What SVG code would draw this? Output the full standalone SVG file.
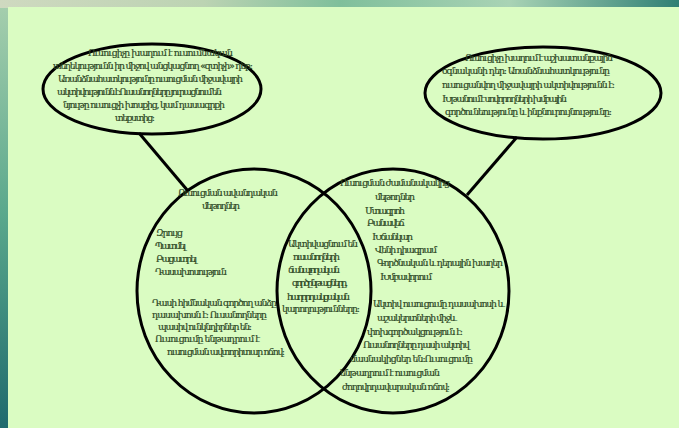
<svg xmlns="http://www.w3.org/2000/svg" width="679" height="428" viewBox="0 0 679 428">
<defs>
<linearGradient id="topFrame" x1="0" y1="0" x2="1" y2="0">
<stop offset="0" stop-color="#cfd9c0"/>
<stop offset="0.3" stop-color="#bcd3b3"/>
<stop offset="0.5" stop-color="#7fbf9b"/>
<stop offset="0.75" stop-color="#a9d3b5"/>
<stop offset="1" stop-color="#2f7f74"/>
</linearGradient>
<linearGradient id="leftFrame" x1="0" y1="0" x2="0" y2="1">
<stop offset="0" stop-color="#a7cfae"/>
<stop offset="0.5" stop-color="#5aa88c"/>
<stop offset="1" stop-color="#1f6a6d"/>
</linearGradient>
<style>
.shape{fill:none;stroke:#000;stroke-width:3}
.conn{stroke:#000;stroke-width:3;fill:none}
text{font-family:"DejaVu Serif","DejaVu Sans",serif;font-size:9.4px;fill:#2c4724;stroke:#2c4724;stroke-width:0.2}
</style>
</defs>
<rect x="0" y="0" width="679" height="428" fill="url(#leftFrame)"/>
<rect x="0" y="0" width="679" height="8" fill="url(#topFrame)"/>
<rect x="8" y="7" width="671" height="421" fill="#dafcc2"/>

<g id="connectors">
<line class="conn" x1="139" y1="133" x2="188" y2="191"/>
<line class="conn" x1="517" y1="137" x2="467" y2="195"/>
</g>

<g id="node-teacher-traditional">
<ellipse class="shape" cx="152" cy="89" rx="109" ry="45"/>
<text x="88" y="56" textLength="145">Ուսուցիչը խաղում է ուսումնական</text>
<text x="53" y="69" textLength="200">տեղեկությունն իր միջով անցկացնող «զտիչի» դեր:</text>
<text x="58" y="82" textLength="185">Առանձնահատկությունը ուսուցման միջավայրի</text>
<text x="57" y="95" textLength="165">ակտիվությունն է:Ուսանողները յուրացնում են</text>
<text x="63" y="108" textLength="162">նյութը ուսուցչի խոսքից, կամ դասագրքի</text>
<text x="115" y="121" textLength="40">տեքստից:</text>
</g>

<g id="node-teacher-modern">
<ellipse class="shape" cx="543" cy="93" rx="118" ry="46"/>
<text x="465" y="61" textLength="148">Ուսուցիչը խաղում է աշխատանքային</text>
<text x="442" y="74" textLength="168">օգնականի դեր:  Առանձնահատկությունը</text>
<text x="442" y="88" textLength="173">ուսուցանվող միջավայրի  ակտիվությունն է:</text>
<text x="442" y="102" textLength="125">Խթանում է սովորողների խմբային</text>
<text x="445" y="115" textLength="167">գործունեությունը և ինքնուրույնությունը:</text>
</g>

<g id="node-traditional-methods">
<ellipse class="shape" cx="254" cy="291" rx="117" ry="122"/>
<text x="178" y="196" textLength="100">Ուսուցման ավանդական</text>
<text x="202" y="209" textLength="38">մեթոդներ</text>
<text x="156" y="236" textLength="27">Զրույց</text>
<text x="155" y="249" textLength="31">Պատմել</text>
<text x="156" y="262" textLength="41">Բացատրել</text>
<text x="155" y="275" textLength="72">Դասախոսություն</text>
<text x="152" y="306" textLength="125">Դասի հիմնական գործող անձը</text>
<text x="152" y="318" textLength="115">դասախոսն է: Ուսանողները</text>
<text x="158" y="330" textLength="94">պասիվ ունկնդիրներ են:</text>
<text x="155" y="342" textLength="105">Ուսուցումը  ենթադրում է</text>
<text x="167" y="355" textLength="118">ուսուցման  ավտորիտար ոճով:</text>
</g>

<g id="node-common">
<text x="288" y="247" textLength="70">Ակտիվացնում են</text>
<text x="293" y="260" textLength="47">ուսանողների</text>
<text x="288" y="273" textLength="52">ճանաչողական</text>
<text x="292" y="286" textLength="56">գործընթացները,</text>
<text x="287" y="300" textLength="63">հաղորդակցական</text>
<text x="282" y="312" textLength="78">կարողությունները:</text>
</g>

<g id="node-modern-methods">
<ellipse class="shape" cx="393" cy="291" rx="116" ry="122"/>
<text x="340" y="186" textLength="110">Ուսուցման ժամանակակից</text>
<text x="375" y="200" textLength="40">մեթոդներ</text>
<text x="365" y="214" textLength="40">Մտագրոհ</text>
<text x="367" y="226" textLength="38">Բանավեճ</text>
<text x="372" y="240" textLength="41">Խճանկար</text>
<text x="375" y="253" textLength="62">Վենի դիագրամ</text>
<text x="377" y="266" textLength="126">Գործնական և դերային խաղեր</text>
<text x="380" y="280" textLength="52">Խմբավորում</text>
<text x="373" y="307" textLength="132">Ակտիվ ուսուցումը դասախոսի և</text>
<text x="377" y="321" textLength="80">աշակերտների միջև</text>
<text x="367" y="335" textLength="96">փոխգործակցություն է:</text>
<text x="363" y="348" textLength="107">Ուսանողները դասի ակտիվ</text>
<text x="350" y="362" textLength="123">մասնակիցներ են:Ուսուցումը</text>
<text x="340" y="376" textLength="100">ենթադրում է  ուսուցման</text>
<text x="342" y="390" textLength="108">ժողովրդավարական ոճով:</text>
</g>
</svg>
